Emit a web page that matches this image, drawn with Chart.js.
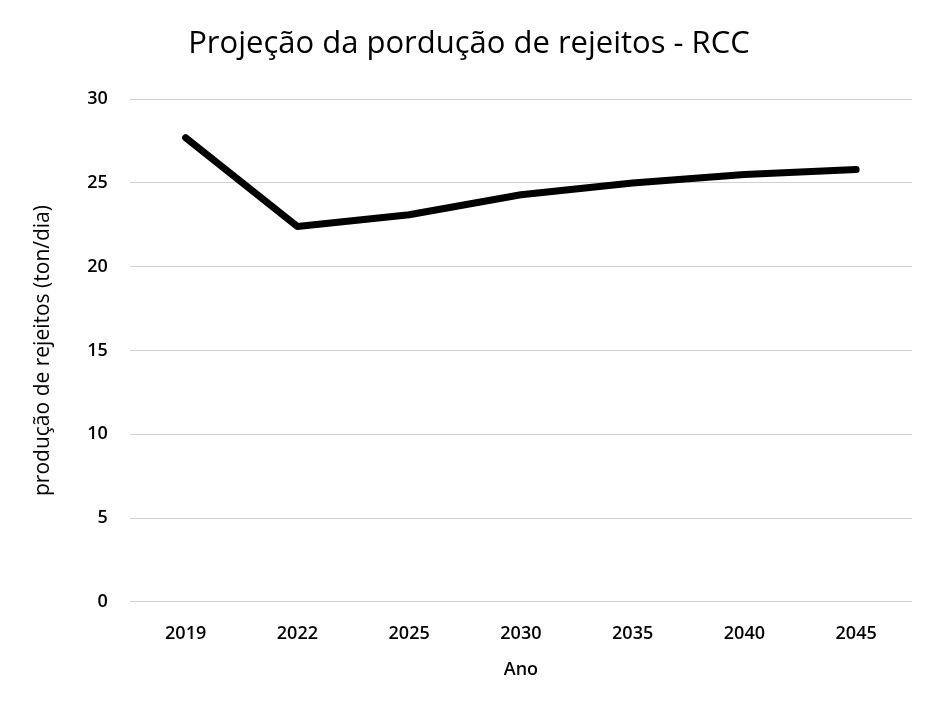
<!DOCTYPE html>
<html>
<head>
<meta charset="utf-8">
<script src="https://cdn.jsdelivr.net/npm/chart.js@4/dist/chart.umd.min.js"></script>
<style>
  html, body { margin: 0; padding: 0; background: #fff; }
  #wrap { width: 925px; height: 725px; }
</style>
</head>
<body>
<div id="wrap"><canvas id="myChart" width="925" height="725"></canvas></div>
<script>
const anos = ['2019', '2022', '2025', '2030', '2035', '2040', '2045']
const rejeitos = [27.7, 22.4, 23.1, 24.3, 25.0, 25.5, 25.8]

const fonte = "'Open Sans', 'Noto Sans', sans-serif"

const chartEle = document.getElementById("myChart")

const chart = new Chart(chartEle, {
  type: 'line',
  data: {
    labels: anos,
    datasets: [{
      label: 'RCC',
      data: rejeitos,
      borderColor: '#000',
      borderWidth: 7,
      pointRadius: 0,
      tension: 0,
      borderCapStyle: 'round',
      borderJoinStyle: 'round'
    }]
  },
  options: {
    responsive: false,
    animation: false,
    layout: { padding: { left: 26, right: 13, top: 26, bottom: 40 } },
    plugins: {
      legend: { display: false },
      title: {
        display: true,
        text: 'Projeção da pordução de rejeitos - RCC',
        color: '#000',
        align: 'center',
        font: { family: fonte, size: 31, weight: 'normal' },
        padding: { top: 0, bottom: 36 }
      }
    },
    scales: {
      x: {
        offset: true,
        grid: { display: false },
        border: { display: false },
        ticks: { color: '#000', font: { family: fonte, size: 18, weight: 600 }, padding: 13 },
        title: { display: true, text: 'Ano', color: '#000', font: { family: fonte, size: 18, weight: 600 }, padding: { top: 2 } }
      },
      y: {
        min: 0,
        max: 30,
        ticks: { stepSize: 5, color: '#000', font: { family: fonte, size: 18, weight: 600 }, padding: 22 },
        grid: { color: '#d0d0d0', lineWidth: 1, drawTicks: false },
        border: { display: false },
        title: { display: true, text: 'produção de rejeitos (ton/dia)', color: '#000', font: { family: fonte, size: 21 }, padding: { bottom: 10 } }
      }
    }
  }
})
</script>
</body>
</html>
